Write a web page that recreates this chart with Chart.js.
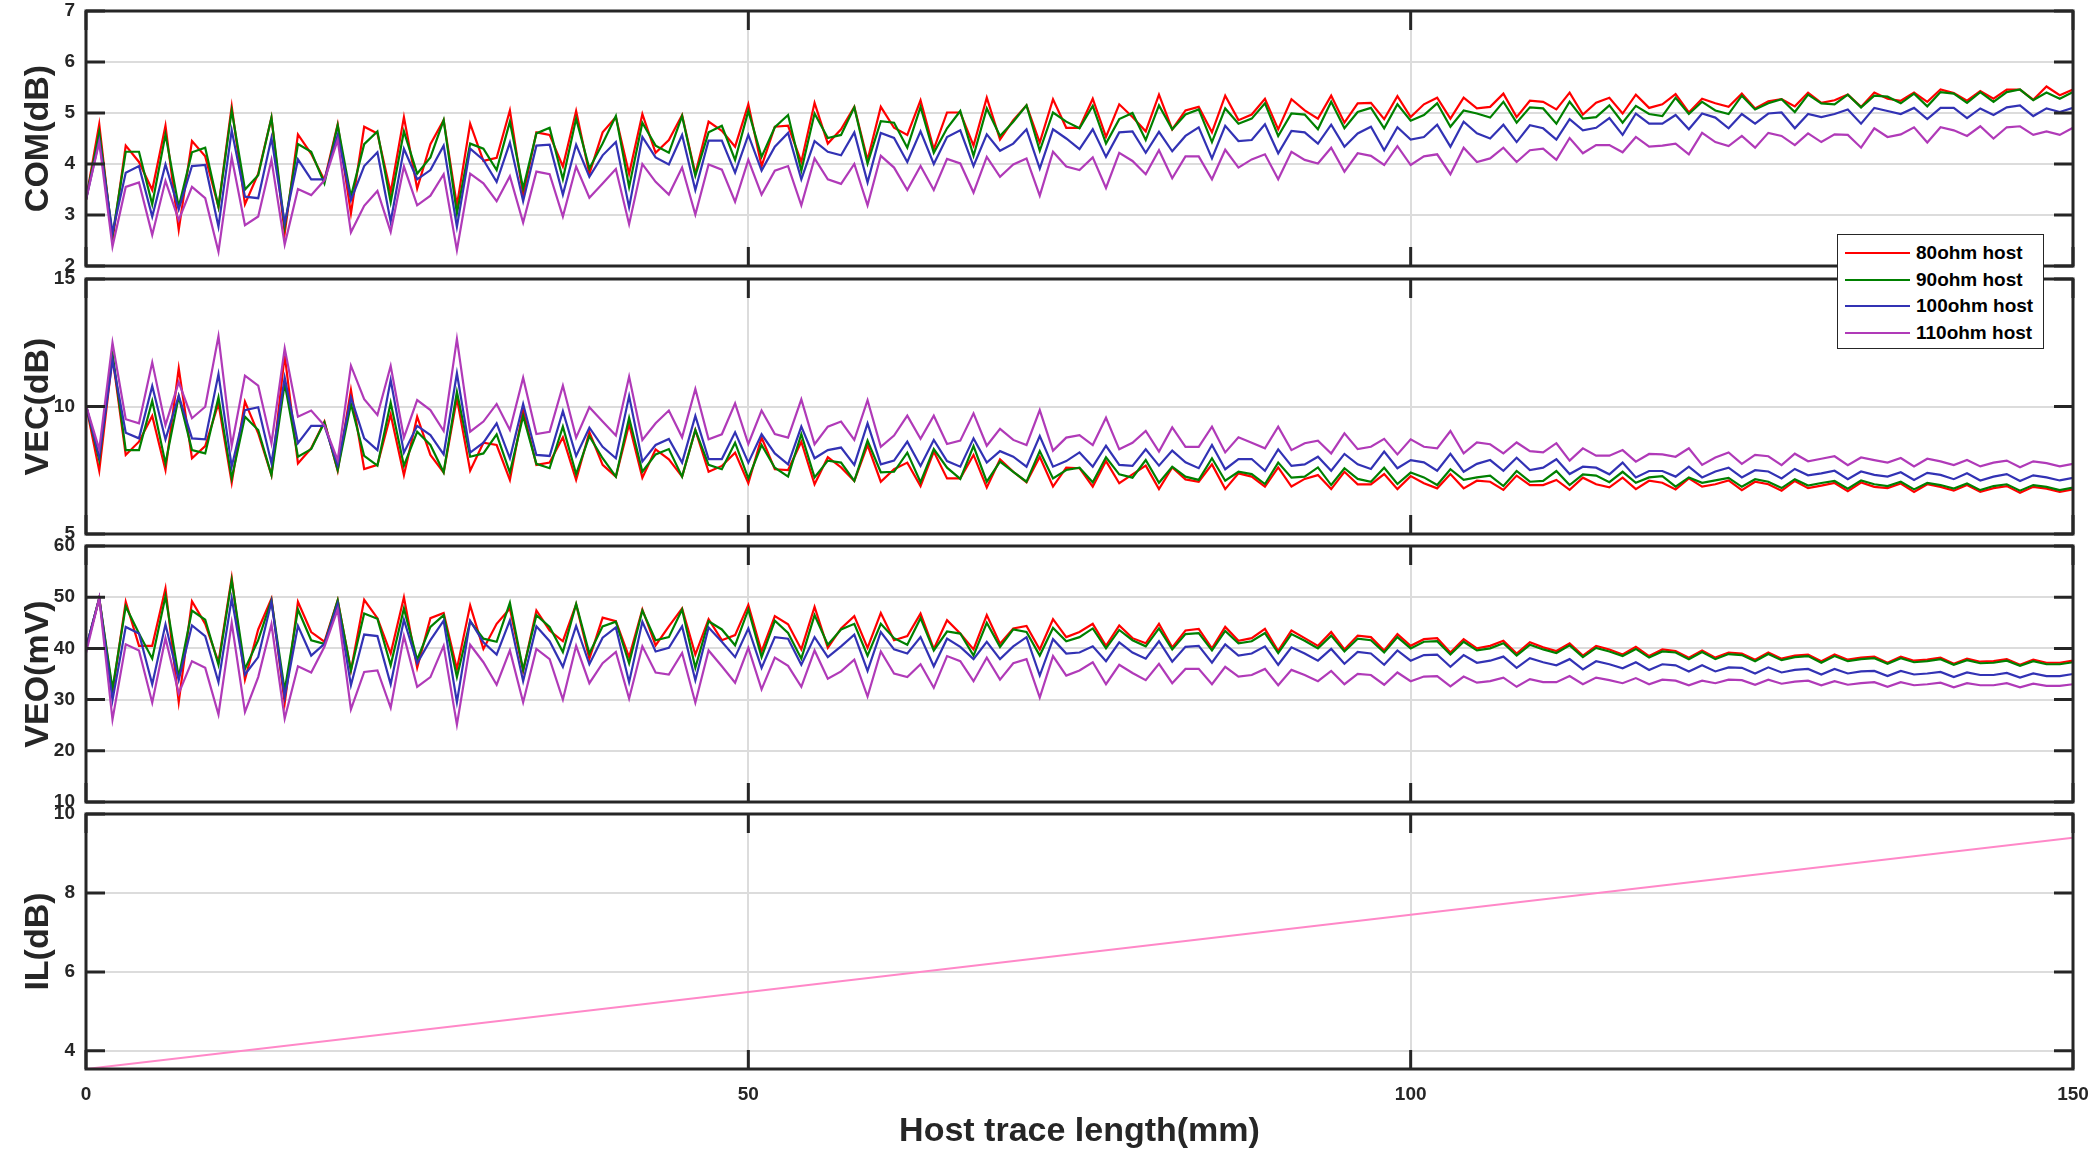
<!DOCTYPE html>
<html><head><meta charset="utf-8">
<script src="https://cdn.jsdelivr.net/npm/chart.js@4.4.1/dist/chart.umd.min.js"></script>
<style>
html,body{margin:0;padding:0;background:#fff;}
body{width:2092px;height:1152px;position:relative;overflow:hidden;}
canvas{position:absolute;left:0;}
#legend{position:absolute;left:1837px;top:234px;width:207px;height:115px;background:#fff;border:1.5px solid #262626;box-sizing:border-box;font:bold 19px "Liberation Sans",Arial,sans-serif;color:#000;z-index:10;}
#legend .row{position:absolute;left:0;height:26px;line-height:26px;white-space:nowrap;}
#legend .sw{position:absolute;left:7px;top:12px;width:65px;height:2px;}
#legend .tx{position:absolute;left:78px;top:0;}
</style></head><body>
<canvas id="c0"></canvas><canvas id="c1"></canvas><canvas id="c2"></canvas><canvas id="c3"></canvas>
<div id="legend"></div>
<script>
const hostLength = [0,1,2,3,4,5,6,7,8,9,10,11,12,13,14,15,16,17,18,19,20,21,22,23,24,25,26,27,28,29,30,31,32,33,34,35,36,37,38,39,40,41,42,43,44,45,46,47,48,49,50,51,52,53,54,55,56,57,58,59,60,61,62,63,64,65,66,67,68,69,70,71,72,73,74,75,76,77,78,79,80,81,82,83,84,85,86,87,88,89,90,91,92,93,94,95,96,97,98,99,100,101,102,103,104,105,106,107,108,109,110,111,112,113,114,115,116,117,118,119,120,121,122,123,124,125,126,127,128,129,130,131,132,133,134,135,136,137,138,139,140,141,142,143,144,145,146,147,148,149,150];
const seriesNames = ["80ohm host","90ohm host","100ohm host","110ohm host"];
const seriesColors = ["#ff0000","#008000","#3232b4","#b03ab8"];
const xTicks = [0,50,100,150];

const com80 = [3.3,4.78,2.5,4.36,4.04,3.49,4.75,2.71,4.45,4.15,3.16,5.13,3.21,3.81,4.91,2.64,4.58,4.2,3.68,4.78,3.03,4.73,4.6,3.44,4.92,3.52,4.39,4.86,3.19,4.79,4.06,4.12,5.05,3.39,4.62,4.57,3.95,5.04,3.81,4.62,4.92,3.81,4.98,4.22,4.47,4.96,3.81,4.83,4.65,4.34,5.17,3.96,4.73,4.75,4.04,5.2,4.4,4.68,5.12,4.08,5.12,4.71,4.57,5.25,4.29,5.01,5.01,4.36,5.3,4.48,4.86,5.15,4.42,5.27,4.71,4.71,5.28,4.53,5.17,4.92,4.64,5.36,4.68,5.05,5.12,4.62,5.34,4.86,4.97,5.28,4.68,5.27,5.05,4.89,5.34,4.81,5.19,5.2,4.88,5.33,4.92,5.17,5.3,4.89,5.3,5.09,5.12,5.38,4.92,5.24,5.22,5.07,5.4,4.97,5.2,5.3,4.99,5.36,5.1,5.17,5.37,5.01,5.28,5.19,5.12,5.38,5.09,5.23,5.27,5.13,5.4,5.2,5.25,5.36,5.12,5.4,5.28,5.24,5.4,5.22,5.46,5.39,5.24,5.43,5.28,5.46,5.46,5.26,5.52,5.35,5.46];
const com90 = [3.3,4.63,2.6,4.24,4.24,3.21,4.58,3.16,4.23,4.32,3.16,5.05,3.5,3.78,4.91,2.77,4.39,4.24,3.62,4.76,3.36,4.39,4.64,3.25,4.64,3.81,4.13,4.86,3.03,4.4,4.3,3.88,4.83,3.52,4.6,4.71,3.7,4.89,3.91,4.4,4.94,3.55,4.81,4.36,4.22,4.94,3.77,4.62,4.75,4.08,5.04,4.14,4.72,4.96,3.87,4.99,4.51,4.57,5.11,4.01,4.84,4.81,4.32,5.12,4.22,4.7,5.04,4.16,5.09,4.55,4.83,5.15,4.26,5.01,4.83,4.7,5.14,4.4,4.88,5.0,4.47,5.15,4.68,4.97,5.07,4.43,5.09,4.79,4.89,5.19,4.55,4.99,4.97,4.68,5.22,4.7,5.02,5.1,4.7,5.17,4.85,4.96,5.19,4.73,5.05,4.99,4.91,5.22,4.81,5.11,5.09,4.79,5.22,4.89,4.92,5.15,4.81,5.14,4.98,4.94,5.3,4.98,5.22,5.05,4.98,5.34,5.07,5.19,5.27,5.02,5.36,5.19,5.17,5.36,5.11,5.34,5.32,5.19,5.38,5.13,5.41,5.38,5.2,5.41,5.22,5.41,5.46,5.25,5.4,5.28,5.41];
const com100 = [3.3,4.47,2.65,3.83,3.96,2.97,3.99,3.11,3.96,3.98,2.77,4.66,3.36,3.33,4.51,2.84,4.09,3.7,3.7,4.57,3.29,3.96,4.23,2.87,4.3,3.7,3.88,4.36,2.77,4.3,4.08,3.65,4.42,3.27,4.36,4.38,3.4,4.38,3.75,4.17,4.43,3.15,4.53,4.13,3.99,4.57,3.49,4.46,4.46,3.83,4.57,3.87,4.34,4.61,3.7,4.45,4.24,4.17,4.62,3.64,4.61,4.51,4.04,4.64,4.0,4.53,4.66,3.96,4.58,4.26,4.4,4.68,3.91,4.68,4.5,4.29,4.68,4.14,4.62,4.64,4.22,4.63,4.25,4.55,4.72,4.11,4.75,4.45,4.47,4.78,4.21,4.65,4.62,4.4,4.77,4.34,4.6,4.73,4.27,4.72,4.48,4.53,4.77,4.34,4.83,4.6,4.5,4.77,4.43,4.76,4.7,4.48,4.88,4.66,4.71,4.9,4.57,4.99,4.79,4.79,4.96,4.68,4.99,4.91,4.7,4.98,4.79,4.99,5.01,4.7,4.98,4.92,4.98,5.07,4.79,5.1,5.04,4.98,5.1,4.88,5.1,5.1,4.9,5.09,4.96,5.11,5.15,4.94,5.09,5.02,5.1];
const com110 = [3.3,4.43,2.38,3.55,3.64,2.61,3.67,2.9,3.55,3.33,2.28,4.13,2.8,2.97,4.08,2.42,3.51,3.39,3.68,4.47,2.66,3.18,3.47,2.67,3.95,3.19,3.38,3.8,2.31,3.81,3.62,3.27,3.76,2.85,3.85,3.8,2.97,3.95,3.34,3.62,3.9,2.82,4.0,3.65,3.4,3.93,3.01,3.99,3.89,3.26,4.08,3.4,3.87,3.96,3.19,4.11,3.7,3.61,4.0,3.19,4.16,3.93,3.49,3.96,3.49,4.1,4.01,3.44,4.14,3.75,3.99,4.11,3.38,4.24,3.95,3.88,4.13,3.53,4.22,4.06,3.8,4.27,3.72,4.15,4.15,3.7,4.28,3.93,4.09,4.19,3.7,4.24,4.08,4.01,4.32,3.85,4.21,4.16,3.98,4.35,3.98,4.15,4.19,3.8,4.32,4.04,4.11,4.32,4.04,4.27,4.3,4.08,4.51,4.21,4.37,4.37,4.23,4.53,4.34,4.36,4.4,4.19,4.61,4.43,4.35,4.55,4.32,4.61,4.55,4.37,4.6,4.43,4.58,4.57,4.32,4.7,4.53,4.58,4.72,4.42,4.72,4.66,4.55,4.74,4.5,4.72,4.74,4.57,4.64,4.57,4.71];

const vec80 = [10.05,7.48,11.95,8.1,8.62,9.63,7.51,11.5,7.97,8.45,10.12,7.01,10.19,8.95,7.31,12.02,7.77,8.36,9.41,7.48,10.65,7.55,7.71,9.69,7.31,9.6,8.1,7.41,10.32,7.48,8.58,8.49,7.12,9.86,7.71,7.8,8.79,7.12,8.99,7.71,7.25,9.3,7.21,8.32,7.93,7.25,9.08,7.44,7.67,8.19,6.99,8.78,7.54,7.51,8.62,6.95,8.01,7.61,7.08,8.49,7.05,7.54,7.8,6.88,8.23,7.18,7.18,8.1,6.82,7.93,7.44,7.03,8.03,6.86,7.6,7.58,6.86,7.86,6.99,7.34,7.68,6.76,7.61,7.14,7.05,7.73,6.76,7.38,7.25,6.86,7.61,6.86,7.16,7.31,6.76,7.44,6.95,6.95,7.35,6.76,7.27,6.99,6.79,7.35,6.79,7.09,7.05,6.73,7.29,6.92,6.92,7.12,6.73,7.21,6.95,6.83,7.21,6.76,7.09,7.01,6.75,7.18,6.86,6.95,7.1,6.72,7.05,6.95,6.7,7.08,6.8,6.9,7.0,6.68,7.02,6.85,6.8,6.98,6.65,6.95,6.85,6.7,6.92,6.65,6.8,6.88,6.62,6.85,6.78,6.65,6.75];
const vec90 = [10.05,7.9,12.08,8.29,8.29,10.22,7.77,10.39,8.29,8.16,10.36,7.18,9.6,9.08,7.31,10.91,8.03,8.33,9.38,7.51,10.1,8.06,7.68,10.15,7.68,9.01,8.49,7.42,10.58,8.03,8.16,8.91,7.41,9.63,7.75,7.58,9.21,7.35,8.84,7.97,7.25,9.56,7.44,8.12,8.33,7.25,9.08,7.71,7.54,8.58,7.18,8.49,7.6,7.25,8.91,7.22,7.88,7.8,7.08,8.66,7.42,7.44,8.19,7.03,8.33,7.6,7.16,8.45,7.05,7.84,7.44,7.05,8.25,7.18,7.51,7.6,7.03,8.01,7.34,7.21,7.9,7.01,7.64,7.25,7.12,7.97,7.09,7.44,7.35,6.96,7.8,7.21,7.25,7.61,6.92,7.58,7.16,7.05,7.6,6.96,7.41,7.22,6.92,7.54,7.12,7.22,7.29,6.88,7.47,7.05,7.08,7.47,6.92,7.34,7.29,7.03,7.44,7.01,7.22,7.27,6.86,7.22,7.01,7.1,7.2,6.85,7.15,7.05,6.8,7.15,6.9,7.0,7.08,6.78,7.1,6.95,6.88,7.05,6.75,7.0,6.92,6.78,6.98,6.72,6.88,6.95,6.7,6.92,6.85,6.72,6.82];
const vec100 = [10.05,8.03,11.82,8.97,8.75,10.8,8.71,10.42,8.75,8.71,11.27,7.64,9.86,9.97,7.77,11.14,8.56,9.24,9.24,7.71,10.36,8.75,8.29,11.04,8.19,9.24,8.88,8.12,11.3,8.19,8.58,9.34,7.97,10.1,8.1,8.06,9.82,8.06,9.17,8.42,7.97,10.41,7.84,8.49,8.73,7.8,9.63,7.94,7.94,8.99,7.8,8.91,8.16,7.73,9.21,7.97,8.29,8.39,7.71,9.34,7.73,7.88,8.62,7.67,8.69,7.86,7.64,8.75,7.8,8.25,8.03,7.64,8.84,7.64,7.86,8.2,7.64,8.46,7.71,7.67,8.32,7.68,8.27,7.81,7.58,8.49,7.54,7.94,7.94,7.48,8.32,7.67,7.73,8.03,7.48,8.14,7.73,7.55,8.23,7.58,7.9,7.81,7.48,8.14,7.44,7.75,7.9,7.48,7.99,7.51,7.6,7.93,7.35,7.64,7.6,7.34,7.8,7.22,7.47,7.47,7.25,7.64,7.22,7.45,7.6,7.22,7.5,7.45,7.18,7.55,7.3,7.38,7.48,7.15,7.45,7.32,7.25,7.42,7.12,7.4,7.32,7.15,7.38,7.1,7.25,7.35,7.08,7.3,7.22,7.1,7.2];
const vec110 = [10.05,8.32,12.5,9.5,9.34,11.73,9.27,10.95,9.54,9.99,12.76,8.46,11.21,10.82,8.56,12.28,9.6,9.84,9.25,7.9,11.6,10.29,9.67,11.59,8.78,10.25,9.86,9.04,12.65,9.01,9.41,10.1,9.08,11.13,8.92,9.01,10.82,8.78,9.97,9.41,8.86,11.17,8.69,9.34,9.84,8.79,10.69,8.71,8.91,10.12,8.53,9.84,8.92,8.78,10.28,8.52,9.21,9.41,8.69,10.25,8.42,8.86,9.64,8.73,9.64,8.53,8.66,9.73,8.46,9.12,8.69,8.49,9.86,8.27,8.78,8.88,8.49,9.56,8.32,8.58,9.04,8.23,9.18,8.42,8.42,9.21,8.2,8.79,8.58,8.36,9.21,8.29,8.56,8.66,8.16,8.95,8.33,8.42,8.73,8.12,8.71,8.42,8.36,9.04,8.16,8.59,8.52,8.16,8.59,8.25,8.2,8.56,7.88,8.36,8.07,8.07,8.29,7.84,8.14,8.12,8.03,8.36,7.71,8.0,8.2,7.75,8.1,8.05,7.7,8.15,7.85,7.95,8.05,7.7,8.0,7.9,7.8,7.98,7.65,7.95,7.85,7.7,7.9,7.65,7.8,7.88,7.62,7.85,7.78,7.65,7.75];

const veo80 = [40,49.8,31.4,49.1,40.5,40.5,51.7,29.5,49.2,44.8,37.3,53.8,33.9,43.7,49.7,29.3,49.1,43.2,41.3,49.4,35.7,49.5,45.9,39,50,36.2,45.9,46.9,36,48.4,39.9,44.8,47.8,35.6,47.4,43.5,41.4,48.6,38,46,45.3,38.3,47.6,40.6,44.3,47.8,38.8,45.7,41.6,42.6,48.5,39.4,46.3,44.7,39.8,48.1,40.1,43.9,46.3,40.1,46.9,41.6,42.4,46.8,39.9,45.5,42.9,39.8,46.5,40.9,43.9,44.4,39.8,45.7,42.2,43.2,44.8,40.5,44.5,42.0,41.0,44.8,40.2,43.5,43.8,40.0,44.2,41.5,42.0,43.8,39.5,43.5,42.0,40.5,43.2,39.8,42.5,42.2,39.6,42.8,40.5,41.8,42.0,39.2,41.8,40.0,40.5,41.5,39.0,41.2,40.2,39.5,41.0,38.6,40.5,39.8,38.8,40.3,38.5,39.8,39.5,38.2,39.6,38.2,39.2,39.0,37.8,39.2,38.0,38.6,38.8,37.5,38.8,37.8,38.2,38.4,37.2,38.4,37.6,37.8,38.2,37.0,38.0,37.4,37.5,37.9,36.8,37.8,37.2,37.2,37.6];
const veo90 = [40,49.8,32.1,48.2,42.9,38,50.2,34.4,47.4,45.6,36.8,53.3,36,41.6,49.4,31.8,47.6,41.6,40.9,49.4,35.7,46.8,45.8,36.7,47.8,37.8,44.2,46.5,34.4,45.3,41.9,41.3,48.9,35.8,46.5,44.2,39.3,48.7,39,44.3,45.2,37.1,47.4,41.6,42.2,47.6,36.2,45.3,43.7,40.6,47.6,38.3,45.4,43,38,46.5,40.7,43.7,44.8,38.6,44.8,42,40.7,45.9,39.6,43.3,42.9,38.6,45,40.3,43.7,43.2,38.6,44,41.4,42.2,43.9,40.0,43.6,41.6,40.4,43.9,39.8,42.8,43.0,39.6,43.4,41.0,41.4,43.0,39.1,42.8,41.5,40.0,42.5,39.4,41.9,41.6,39.2,42.2,40.0,41.3,41.4,38.8,41.3,39.6,40.0,41.0,38.6,40.7,39.8,39.1,40.6,38.3,40.1,39.4,38.5,39.9,38.2,39.4,39.2,37.9,39.3,37.9,38.9,38.7,37.5,38.9,37.7,38.3,38.5,37.2,38.5,37.5,37.9,38.1,37.0,38.1,37.3,37.5,37.9,36.8,37.7,37.1,37.2,37.6,36.6,37.5,36.9,36.9,37.3];
const veo100 = [40,49.8,29.9,44.2,42.9,33,44.7,33.8,44.5,42.4,33.4,49.8,34.9,38.3,49.1,30.5,44.4,38.6,40.9,48.7,32.8,42.7,42.4,33,45.6,37.1,41.6,45.4,29.5,45.4,41.2,38.8,45.5,33.6,44.3,41.4,36.4,44.4,36.9,42.1,44.1,33.4,45.2,39.4,40.1,44.3,33.8,44.1,41.3,38.3,43.9,36.2,42.2,41.9,36.8,42.2,38.3,40.4,42.7,35.6,43.2,39.8,39,42.2,36.5,41.9,40.3,37.9,41.3,37.9,40.4,42.2,34.7,41.8,39,39.2,40.4,37.5,41.2,39.2,38.0,41.4,37.4,40.3,40.5,37.2,40.8,38.6,39.0,40.4,36.8,40.2,39.0,37.6,39.9,37.0,39.3,39.0,36.8,39.6,37.6,38.7,38.8,36.4,38.7,37.2,37.6,38.4,36.2,38.1,37.3,36.7,37.9,35.9,37.5,36.9,36.1,37.3,35.8,36.9,36.7,35.5,36.7,35.5,36.3,36.2,35.1,36.3,35.3,35.8,36.0,34.9,36.0,35.1,35.5,35.6,34.6,35.6,34.9,35.1,35.4,34.4,35.3,34.8,34.8,35.2,34.3,35.1,34.6,34.6,35.0];
const veo110 = [39.1,49.8,26.1,40.8,39.6,29.4,42,31.2,37.5,36.2,27.1,45,27.6,34.4,44.7,26.3,36.5,35.3,40.3,47.6,28.1,35.4,35.7,28.4,42.4,32.5,34.4,40.5,25.1,40.7,37.3,32.9,39.6,29.5,39.9,37.9,30,40.5,33.2,37.1,39.3,30.2,40.4,35.3,34.9,39.1,29.4,39.6,36.5,33.3,40.1,32,38.2,36.6,32.5,39.6,34.1,35.5,37.8,30.6,39.4,35.1,34.4,36.9,32.3,38.5,37.5,33.6,38.2,33.9,37.1,37.9,30.4,38.5,34.7,35.7,37.3,33.0,36.8,35.2,33.8,37.0,33.2,36.0,36.0,33.0,36.4,34.5,34.8,36.0,32.8,35.8,34.8,33.6,35.6,33.0,35.0,34.8,32.9,35.3,33.6,34.5,34.6,32.6,34.5,33.3,33.6,34.3,32.5,34.0,33.4,33.4,34.6,33.0,34.3,33.8,33.2,34.2,33.0,33.9,33.7,32.8,33.7,33.2,33.9,33.8,32.9,33.9,33.1,33.5,33.7,32.8,33.6,32.9,33.2,33.4,32.5,33.4,32.8,33.0,33.3,32.4,33.2,32.8,32.8,33.2,32.4,33.1,32.7,32.7,33.0];

const ilLength = [0,50,100,150];
const ilValues = [3.54,5.49,7.45,9.40];

const FONT = '"Liberation Sans", Arial, Helvetica, sans-serif';
const AXC = '#262626';
const pts = (xs, ys) => ys.map((v, i) => ({x: xs[i], y: v}));

const framePlugin = {
  id: 'frame',
  afterDraw(chart) {
    const {ctx, chartArea: a, scales} = chart;
    const L = 19;
    ctx.save();
    ctx.strokeStyle = AXC;
    ctx.lineWidth = 3;
    ctx.beginPath();
    scales.y.ticks.forEach(t => {
      const py = scales.y.getPixelForValue(t.value);
      ctx.moveTo(a.left, py); ctx.lineTo(a.left + L, py);
      ctx.moveTo(a.right, py); ctx.lineTo(a.right - L, py);
    });
    scales.x.ticks.forEach(t => {
      const px = scales.x.getPixelForValue(t.value);
      ctx.moveTo(px, a.top); ctx.lineTo(px, a.top + L);
      ctx.moveTo(px, a.bottom); ctx.lineTo(px, a.bottom - L);
    });
    ctx.stroke();
    ctx.strokeRect(a.left, a.top, a.right - a.left, a.bottom - a.top);
    ctx.restore();
  }
};

function makePanel(id, top, bottom, yOpt, title, datasets, isBottom) {
  const PAD = 30;
  const cTop = top - PAD;
  const cBottom = isBottom ? 1152 : bottom + PAD;
  const cv = document.getElementById(id);
  cv.width = 2092; cv.height = cBottom - cTop;
  cv.style.top = cTop + 'px';
  new Chart(cv, {
    type: 'line',
    data: {datasets},
    options: {
      responsive: false, animation: false, devicePixelRatio: 1,
      layout: {padding: {top: PAD, bottom: isBottom ? 0 : PAD, left: 0, right: 19}},
      plugins: {legend: {display: false}, tooltip: {enabled: false}},
      elements: {point: {radius: 0}, line: {tension: 0, borderWidth: 2.2}},
      scales: {
        x: {
          type: 'linear', min: 0, max: 150,
          afterBuildTicks: s => { s.ticks = xTicks.map(v => ({value: v})); },
          ticks: {display: isBottom, padding: 14, color: AXC, font: {family: FONT, size: 19, weight: 'bold'}},
          grid: {color: '#dcdcdc', lineWidth: 2, drawTicks: false},
          border: {display: false},
          title: {display: isBottom, text: 'Host trace length(mm)', color: AXC, padding: {top: 0, bottom: 0}, font: {family: FONT, size: 34, weight: 'bold'}},
          afterFit: s => { s.height = isBottom ? 1152 - bottom : 0; s.paddingLeft = 0; s.paddingRight = 0; }
        },
        y: Object.assign({
          type: 'linear',
          ticks: {padding: 11, color: AXC, includeBounds: false, font: {family: FONT, size: 19, weight: 'bold'}, stepSize: yOpt.step},
          grid: {color: '#dcdcdc', lineWidth: 2, drawTicks: false},
          border: {display: false},
          title: {display: true, text: title, color: AXC, padding: {top: 18, bottom: 0}, font: {family: FONT, size: 34, weight: 'bold'}},
          afterFit: s => { s.width = 86; s.paddingTop = 0; s.paddingBottom = 0; }
        }, {min: yOpt.min, max: yOpt.max})
      }
    },
    plugins: [framePlugin]
  });
}

function fourSeries(arrs) {
  return arrs.map((a, k) => ({
    label: seriesNames[k], data: pts(hostLength, a),
    borderColor: seriesColors[k], backgroundColor: seriesColors[k],
    fill: false, order: 4 - k
  }));
}

makePanel('c0', 11, 266, {min: 2, max: 7, step: 1}, 'COM(dB)', fourSeries([com80, com90, com100, com110]), false);
makePanel('c1', 279, 534, {min: 5, max: 15, step: 5}, 'VEC(dB)', fourSeries([vec80, vec90, vec100, vec110]), false);
makePanel('c2', 546, 802, {min: 10, max: 60, step: 10}, 'VEO(mV)', fourSeries([veo80, veo90, veo100, veo110]), false);
makePanel('c3', 814, 1069, {min: 3.54, max: 10, step: 2}, 'IL(dB)', [{
  label: 'IL', data: pts(ilLength, ilValues), borderColor: '#ff88c8', backgroundColor: '#ff88c8', fill: false, borderWidth: 2
}], true);

const lg = document.getElementById('legend');
seriesNames.forEach((n, k) => {
  const r = document.createElement('div');
  r.className = 'row';
  r.style.top = (5 + k * 26.5) + 'px';
  r.style.width = '100%';
  r.innerHTML = '<span class="sw" style="background:' + seriesColors[k] + '"></span><span class="tx">' + n + '</span>';
  lg.appendChild(r);
});
</script>
</body></html>
